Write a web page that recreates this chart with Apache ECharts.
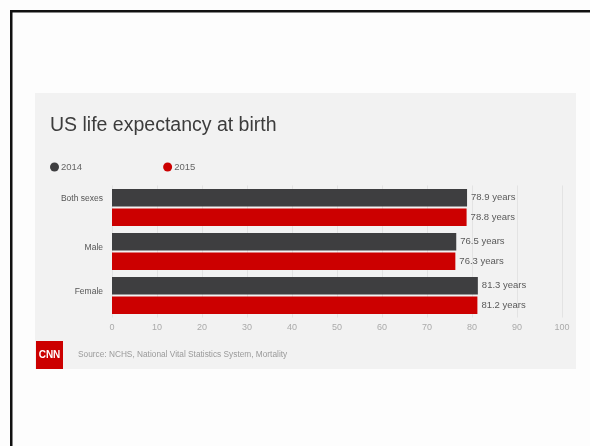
<!DOCTYPE html>
<html>
<head>
<meta charset="utf-8">
<style>
  html, body { margin: 0; padding: 0; background: #fdfdfd; }
  #chart { width: 590px; height: 446px; }
</style>
<script src="https://cdn.jsdelivr.net/npm/echarts@6/dist/echarts.min.js"></script>
</head>
<body>
<div id="chart"></div>
<script>
// Life expectancy at birth, by sex, in years
const categories = ['Both sexes', 'Male', 'Female'];
const seriesNames = ['2014', '2015'];
const values2014 = [78.9, 76.5, 81.3];
const values2015 = [78.8, 76.3, 81.2];
const xTicks = { min: 0, max: 100, interval: 10 };

const FONT = "'Liberation Sans', Arial, sans-serif";
const DARK = '#3e3e40';
const RED = '#cc0000';

const chart = echarts.init(document.getElementById('chart'), null, { renderer: 'canvas' });

const labelOpt = {
  show: true,
  position: 'right',
  distance: 4,
  formatter: p => p.value + ' years',
  color: '#5a5a5a',
  fontSize: 9.5,
  fontFamily: FONT
};

chart.setOption({
  animation: false,
  backgroundColor: '#fdfdfd',
  textStyle: { fontFamily: FONT },
  title: {
    text: 'US life expectancy at birth',
    left: 50,
    top: 116,
    padding: 0,
    textStyle: { fontSize: 19.5, fontWeight: 'normal', color: '#3c3c3c', fontFamily: FONT }
  },
  legend: {
    data: seriesNames,
    left: 50,
    top: 162,
    padding: 0,
    icon: 'circle',
    itemWidth: 9,
    itemHeight: 9,
    itemGap: 81,
    textStyle: { fontSize: 9.5, color: '#666', fontFamily: FONT, padding: [0, 0, 0, -3] }
  },
  grid: { left: 112, right: 28, top: 185.5, height: 132, containLabel: false },
  xAxis: {
    type: 'value',
    min: xTicks.min,
    max: xTicks.max,
    interval: xTicks.interval,
    axisLine: { show: false },
    axisTick: { show: false },
    axisLabel: { color: '#aaa', fontSize: 9, margin: 6, fontFamily: FONT },
    splitLine: { show: true, lineStyle: { color: '#e3e3e3', width: 1 } }
  },
  yAxis: {
    type: 'category',
    data: categories,
    inverse: true,
    axisLine: { show: false },
    axisTick: { show: false },
    axisLabel: {
      color: '#555',
      fontSize: 8.5,
      margin: 9,
      fontFamily: FONT,
      // first row label sits level with its upper bar
      formatter: (v, i) => (i === 0 ? '{hi|' + v + '}' : '{lo|' + v + '}'),
      rich: {
        hi: { fontSize: 8.5, color: '#555', fontFamily: FONT, padding: [0, 0, 17, 0] },
        lo: { fontSize: 8.5, color: '#555', fontFamily: FONT, padding: [0, 0, 7, 0] }
      }
    }
  },
  series: [
    {
      name: seriesNames[0],
      type: 'bar',
      data: values2014,
      itemStyle: { color: DARK },
      barCategoryGap: '16%',
      barGap: '10%',
      label: labelOpt
    },
    {
      name: seriesNames[1],
      type: 'bar',
      data: values2015,
      itemStyle: { color: RED },
      barCategoryGap: '16%',
      barGap: '10%',
      label: labelOpt
    }
  ],
  graphic: [
    // outer frame (top and left rules)
    { type: 'rect', z: -20, shape: { x: 10, y: 10, width: 580, height: 2.5 }, style: { fill: '#111' } },
    { type: 'rect', z: -20, shape: { x: 10, y: 10, width: 2.5, height: 436 }, style: { fill: '#111' } },
    // light card behind the chart
    { type: 'rect', z: -10, shape: { x: 35, y: 93, width: 541, height: 276 }, style: { fill: '#f2f2f2' } },
    // logo block
    { type: 'rect', z: 10, shape: { x: 36, y: 341, width: 27, height: 28 }, style: { fill: '#cc0000' } },
    {
      type: 'text', z: 11, x: 49.5, y: 355,
      style: { text: 'CNN', fill: '#fff', font: "bold 10px 'Liberation Sans', Arial, sans-serif", align: 'center', verticalAlign: 'middle' }
    },
    {
      type: 'text', z: 11, x: 78, y: 355,
      style: { text: 'Source: NCHS, National Vital Statistics System, Mortality', fill: '#9a9a9a', font: "8.3px 'Liberation Sans', Arial, sans-serif", verticalAlign: 'middle' }
    }
  ]
});
</script>
</body>
</html>
